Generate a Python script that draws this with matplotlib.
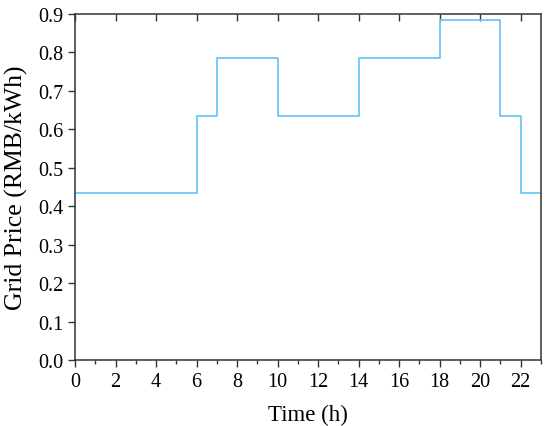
import matplotlib
matplotlib.use("Agg")
import matplotlib.pyplot as plt
from matplotlib.ticker import MultipleLocator

# Data: hourly grid price (step function), hour boundaries
hours = [0, 6, 7, 10, 14, 18, 21, 22, 23]
prices = [0.435, 0.635, 0.785, 0.635, 0.785, 0.885, 0.635, 0.435, 0.435]

x_ticks = list(range(0, 23, 2))
y_ticks = [0.0, 0.1, 0.2, 0.3, 0.4, 0.5, 0.6, 0.7, 0.8, 0.9]

plt.rcParams['font.family'] = ['Liberation Serif', 'DejaVu Serif']

fig = plt.figure(figsize=(5.5, 4.27), dpi=100)
ax = fig.add_axes([0.1364, 0.1546, 0.8472, 0.8103])

ax.step(hours, prices, where='post', color='#5BC4F7', linewidth=1.2)

ax.set_xlim(0, 23)
ax.set_ylim(0, 0.9)
ax.set_xticks(x_ticks)
ax.set_yticks(y_ticks)
ax.set_yticklabels([f"{v:.1f}" for v in y_ticks])
ax.xaxis.set_minor_locator(MultipleLocator(1))

ax.tick_params(axis='x', which='major', direction='out', length=5, width=1,
               labelsize=14.5, top=True, color='#333333', pad=4)
ax.tick_params(axis='x', which='minor', direction='out', length=3, width=1,
               top=False, color='#333333')
ax.tick_params(axis='y', which='major', direction='out', length=5, width=1,
               labelsize=14.5, right=False, color='#333333')
# top ticks pointing inward
for t in ax.xaxis.get_major_ticks():
    t.tick2line.set_marker(3)  # TICKDOWN
    t.tick2line.set_markersize(5)

for s in ax.spines.values():
    s.set_linewidth(1.1)
    s.set_color('#333333')

ax.set_xlabel('Time (h)', fontsize=16.5, labelpad=9)
ax.set_ylabel('Grid Price (RMB/kWh)', fontsize=18.5, labelpad=7)

fig.savefig('out.png', dpi=100)
